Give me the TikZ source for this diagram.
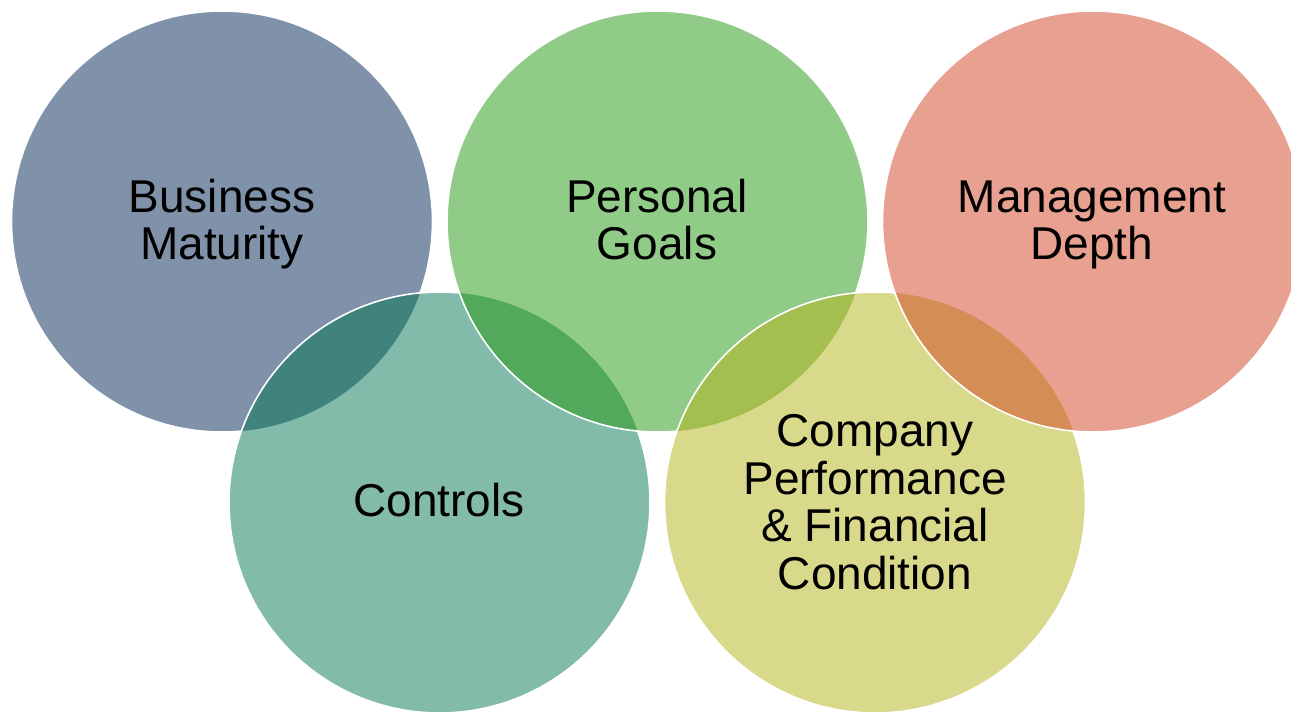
\documentclass[tikz,border=0pt]{standalone}
\usepackage{fontspec}
\setmainfont{Liberation Sans}
\usepackage{xcolor}
\usepackage{tikz}

\definecolor{slate}{HTML}{7F92AA}
\definecolor{leaf}{HTML}{90CB87}
\definecolor{salmon}{HTML}{E8A090}
\definecolor{sea}{HTML}{82BBA9}
\definecolor{straw}{HTML}{D9D98B}
\definecolor{slatesea}{HTML}{40837D}
\definecolor{leafsea}{HTML}{52A95B}
\definecolor{leafstraw}{HTML}{A4BF4F}
\definecolor{salmonstraw}{HTML}{D58D56}

\newcommand{\ringr}{105.25pt}

\begin{document}
\begin{tikzpicture}[x=.5pt,y=.5pt,
  ring/.style={draw=white,line width=.8pt},
  ringtext/.style={black,align=center,anchor=base,font=\fontsize{23}{23.75}\selectfont}]
\fill[white] (0,0) rectangle (1291,713);
\clip (0,0) rectangle (1291,713);

% ring centres
\coordinate (bm) at (222,491.5);
\coordinate (pg) at (657.5,491.5);
\coordinate (md) at (1093,491.5);
\coordinate (ct) at (439.5,210.5);
\coordinate (cp) at (875,210.5);

% business maturity
\fill[slate] (bm) circle (\ringr);
\draw[ring] (bm) circle (\ringr);

% controls, lens with business maturity
\fill[sea] (ct) circle (\ringr);
\begin{scope}
\clip (bm) circle (\ringr);
\fill[slatesea] (ct) circle (\ringr);
\end{scope}
\draw[ring] (ct) circle (\ringr);

% personal goals, lens with controls
\fill[leaf] (pg) circle (\ringr);
\begin{scope}
\clip (ct) circle (\ringr);
\fill[leafsea] (pg) circle (\ringr);
\end{scope}
\draw[ring] (pg) circle (\ringr);

% company performance, lens with personal goals
\fill[straw] (cp) circle (\ringr);
\begin{scope}
\clip (pg) circle (\ringr);
\fill[leafstraw] (cp) circle (\ringr);
\end{scope}
\draw[ring] (cp) circle (\ringr);

% management depth, lens with company performance
\fill[salmon] (md) circle (\ringr);
\begin{scope}
\clip (cp) circle (\ringr);
\fill[salmonstraw] (md) circle (\ringr);
\end{scope}
\draw[ring] (md) circle (\ringr);

% labels, anchored on the last baseline
\node[ringtext] (business) at (222,453) {Business\\Maturity};
\node[ringtext] (personal) at (657,453) {Personal\\Goals};
\node[ringtext] (management) at (1092,453) {Management\\Depth};
\node[ringtext] (controls) at (439,196.3) {Controls};
\node[ringtext] (company) at (875,124) {Company\\Performance\\\& Financial\\Condition};
\end{tikzpicture}
\end{document}
